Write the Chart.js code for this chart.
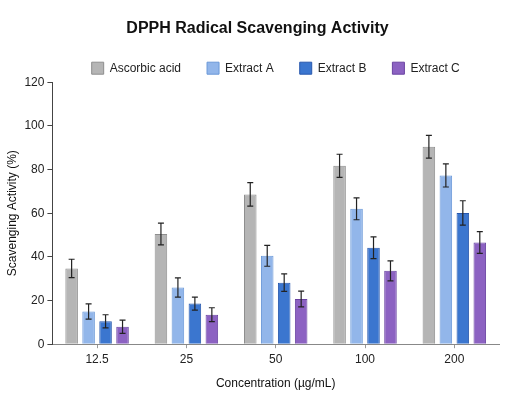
<!DOCTYPE html>
<html>
<head>
<meta charset="utf-8">
<script src="https://cdn.jsdelivr.net/npm/chart.js@4.4.0/dist/chart.umd.min.js"></script>
<style>
  html, body { margin: 0; padding: 0; background: #fff; }
  #wrap { width: 515px; height: 405px; }
</style>
</head>
<body>
<div id="wrap"><canvas id="dpphChart" width="515" height="405"></canvas></div>
<script>
// concentrations (x categories)
const concentrations = ['12.5', '25', '50', '100', '200'];

// mean scavenging activity (%)
const ascorbicAcid = [34.7, 50.5, 68.6, 81.7, 90.4];
const extractA = [15.0, 26.0, 40.5, 62.0, 77.3];
const extractB = [10.5, 18.6, 28.2, 44.2, 60.1];
const extractC = [8.0, 13.5, 20.7, 33.6, 46.6];

// standard deviations
const ascorbicErr = [4.2, 5.0, 5.4, 5.3, 5.2];
const extractAErr = [3.5, 4.4, 4.8, 5.0, 5.3];
const extractBErr = [3.0, 3.0, 4.0, 5.0, 5.6];
const extractCErr = [3.0, 3.2, 3.6, 4.6, 5.0];

const yTicks = [0, 20, 40, 60, 80, 100, 120];

// draws the +/- error whiskers on top of each bar
const errorBars = {
    id: 'errorBars',
    afterDatasetsDraw(chart) {
        const ctx = chart.ctx;
        const yScale = chart.scales.y;
        ctx.save();
        ctx.strokeStyle = '#222';
        ctx.lineWidth = 1.2;
        chart.data.datasets.forEach((ds, i) => {
            const meta = chart.getDatasetMeta(i);
            meta.data.forEach((bar, j) => {
                const v = ds.data[j];
                const e = ds.errors[j];
                const top = yScale.getPixelForValue(v + e);
                const bottom = yScale.getPixelForValue(v - e);
                const x = bar.x;
                ctx.beginPath();
                ctx.moveTo(x, top);
                ctx.lineTo(x, bottom);
                ctx.moveTo(x - 3, top);
                ctx.lineTo(x + 3, top);
                ctx.moveTo(x - 3, bottom);
                ctx.lineTo(x + 3, bottom);
                ctx.stroke();
            });
        });
        ctx.restore();
    }
};

// title centred on the whole canvas, legend centred over the plot area
const recentre = {
    id: 'recentre',
    beforeLayout(chart) {
        // trim the space under the legend a little
        const lg = chart.legend;
        if (lg && !lg._trimmed) {
            const fit = lg.fit.bind(lg);
            lg.fit = function () { fit(); this.height -= 2; };
            lg._trimmed = true;
        }
    },
    afterLayout(chart) {
        const t = chart.titleBlock;
        if (t) {
            const w = t.right - t.left;
            t.left = (chart.width - w) / 2;
            t.right = t.left + w;
        }
        const lg = chart.legend;
        if (lg) {
            const shift = (chart.chartArea.left + chart.chartArea.right) / 2 - (lg.left + lg.right) / 2;
            lg.left += shift;
            lg.right += shift;
        }
    }
};

function series(label, data, errors, fill, border) {
    return {
        label: label,
        data: data,
        errors: errors,
        backgroundColor: fill,
        borderColor: border,
        borderWidth: 1,
        barPercentage: 0.74,
        categoryPercentage: 0.76
    };
}

new Chart(document.getElementById('dpphChart'), {
    type: 'bar',
    data: {
        labels: concentrations,
        datasets: [
            series('Ascorbic acid', ascorbicAcid, ascorbicErr, '#b5b5b5', '#8e8e8e'),
            series('Extract A', extractA, extractAErr, '#92b6ea', '#6a98d8'),
            series('Extract B', extractB, extractBErr, '#3b76cf', '#2858ad'),
            series('Extract C', extractC, extractCErr, '#8c62c2', '#6a44a2')
        ]
    },
    options: {
        responsive: false,
        animation: false,
        layout: { padding: { left: 5, right: 16, top: 13, bottom: 10 } },
        plugins: {
            title: {
                display: true,
                text: 'DPPH Radical Scavenging Activity',
                color: '#111',
                font: { family: 'Liberation Sans', size: 16, weight: 'bold' },
                padding: { top: 6, bottom: -2 }
            },
            legend: {
                labels: {
                    color: '#222',
                    font: { family: 'Liberation Sans', size: 12 },
                    boxWidth: 12,
                    boxHeight: 12,
                    padding: 26
                }
            },
            tooltip: { enabled: false }
        },
        scales: {
            x: {
                grid: { drawOnChartArea: false, offset: false, tickLength: 4, color: '#999' },
                border: { color: '#888' },
                ticks: { color: '#222', font: { family: 'Liberation Sans', size: 12 }, padding: 4 },
                title: {
                    display: true,
                    text: 'Concentration (µg/mL)',
                    color: '#111',
                    font: { family: 'Liberation Sans', size: 12 },
                    padding: { top: 6 }
                }
            },
            y: {
                min: 0,
                max: 120,
                afterBuildTicks(axis) {
                    axis.ticks = yTicks.map(v => ({ value: v }));
                },
                grid: { drawOnChartArea: false, tickLength: 5, color: '#444' },
                border: { color: '#444' },
                ticks: { color: '#222', font: { family: 'Liberation Sans', size: 12 }, padding: 3 },
                title: {
                    display: true,
                    text: 'Scavenging Activity (%)',
                    color: '#111',
                    font: { family: 'Liberation Sans', size: 12 },
                    padding: { top: 0, bottom: 2 }
                }
            }
        }
    },
    plugins: [errorBars, recentre]
});
</script>
</body>
</html>
